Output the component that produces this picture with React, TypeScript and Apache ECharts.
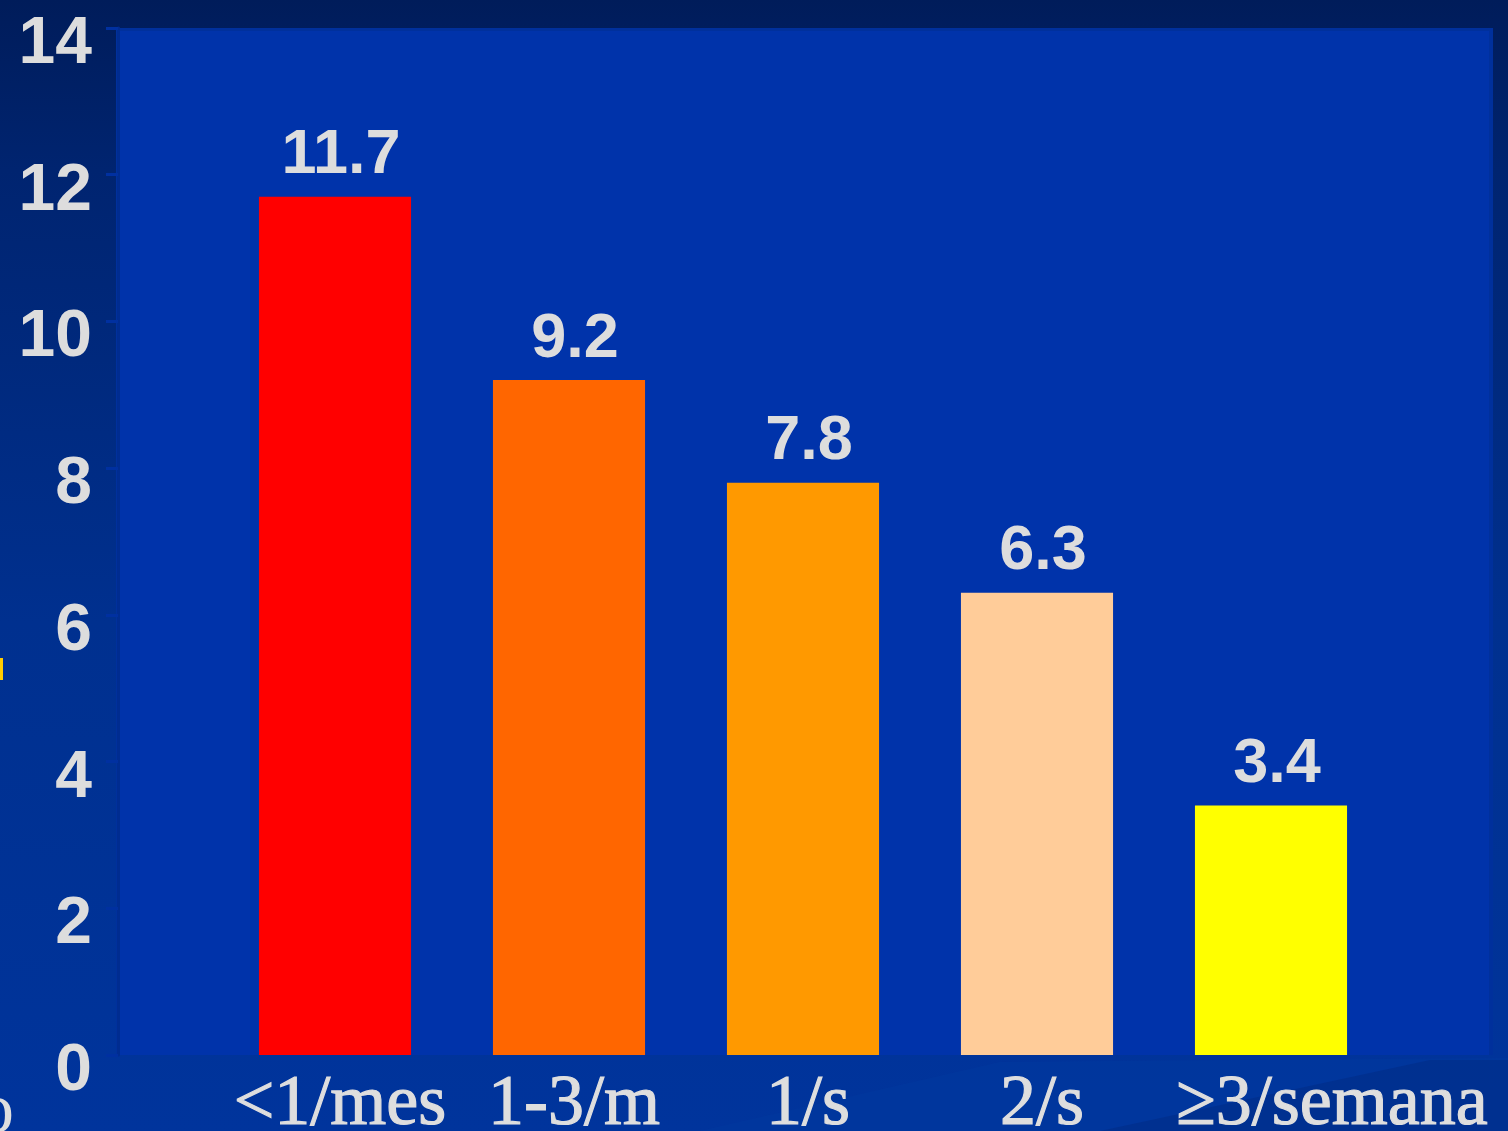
import React, { useEffect, useRef } from "react";
import * as echarts from "echarts";

const categories = ["<1/mes", "1-3/m", "1/s", "2/s", "≥3/semana"];
const values = [11.7, 9.2, 7.8, 6.3, 3.4];
const barColors = ["#FF0000", "#FF6600", "#FF9900", "#FFCC99", "#FFFF00"];
const yTicks = [0, 2, 4, 6, 8, 10, 12, 14];

export default function App() {
  const ref = useRef<HTMLDivElement>(null);
  useEffect(() => {
    if (!ref.current) return;
    const chart = echarts.init(ref.current, undefined, { renderer: "svg" });
    const serif = "'Liberation Serif', serif";
    const labelText = {
      color: "#DEDEDE",
      fontFamily: serif,
      fontSize: 72,
      textBorderColor: "#DEDEDE",
      textBorderWidth: 1.2,
    };
    const yText = {
      color: "#DDDDDD",
      fontFamily: "'Liberation Sans', Arial, sans-serif",
      fontWeight: "bold",
      fontSize: 66,
    };
    const option = {
      animation: false,
      backgroundColor: {
        type: "linear",
        x: 0,
        y: 0,
        x2: 0,
        y2: 1,
        colorStops: [
          { offset: 0, color: "#001C5A" },
          { offset: 0.15, color: "#002470" },
          { offset: 0.55, color: "#00308F" },
          { offset: 1, color: "#00349C" },
        ],
      },
      graphic: [
        {
          type: "polygon",
          z: -2,
          shape: { points: [[700, 1131], [1000, 1062], [1508, 1058], [1508, 1131]] },
          style: { fill: "#00399F", opacity: 0.6 },
        },
        {
          type: "polygon",
          z: -2,
          shape: { points: [[1100, 1131], [1430, 1060], [1508, 1060], [1508, 1131]] },
          style: { fill: "#002E8A", opacity: 0.7 },
        },
        {
          type: "rect",
          z: -1,
          shape: { x: 116, y: 28, width: 1377, height: 1027 },
          style: { fill: "#00309C" },
        },
        {
          type: "rect",
          z: -1,
          shape: { x: 119, y: 31, width: 1370, height: 1024 },
          style: { fill: "#0033AA" },
        },
        {
          type: "rect",
          z: -1,
          shape: { x: 0, y: 658, width: 3, height: 22 },
          style: { fill: "#FFCC00" },
        },
        {
          type: "text",
          z: 5,
          x: -22,
          y: 1072,
          style: {
            text: "o",
            fill: "#DEDEDE",
            font: "72px 'Liberation Serif', serif",
          },
        },
      ],
      grid: {
        left: 218,
        right: 120,
        top: 28,
        bottom: 76,
        containLabel: false,
        outerBoundsMode: "none",
      },
      xAxis: {
        type: "category",
        data: categories,
        axisLine: { show: false },
        axisTick: { show: false },
        axisLabel: {
          interval: 0,
          margin: 9,
          ...labelText,
          formatter: (v: string, i: number) =>
            i === categories.length - 1 ? `{last|${v}}` : `{n|${v}}`,
          rich: {
            n: { ...labelText, padding: [0, 0, 0, 10] },
            last: { ...labelText, padding: [0, 0, 0, 122] },
          },
        },
      },
      yAxis: {
        type: "value",
        min: yTicks[0],
        max: yTicks[yTicks.length - 1],
        interval: 2,
        offset: 100,
        z: 3,
        splitLine: { show: false },
        axisLine: { show: true, lineStyle: { color: "#002C90", width: 3 } },
        axisTick: { show: true, length: 12, lineStyle: { color: "#0030A0", width: 3 } },
        axisLabel: {
          margin: 26,
          ...yText,
          formatter: (v: number) => `{a|${v}}`,
          rich: { a: { ...yText, padding: [24, 0, 0, 0] } },
        },
      },
      series: [
        {
          type: "bar",
          z: 4,
          barWidth: "65%",
          data: values.map((v, i) => ({ value: v, itemStyle: { color: barColors[i] } })),
          label: {
            show: true,
            position: "top",
            distance: 14,
            color: "#DDDDDD",
            fontFamily: "'Liberation Sans', Arial, sans-serif",
            fontWeight: "bold",
            fontSize: 63,
            offset: [6, 0],
          },
        },
      ],
    };
    chart.setOption(option as any);
    return () => chart.dispose();
  }, []);
  return (
    <div
      ref={ref}
      style={{ position: "fixed", left: 0, top: 0, width: 1508, height: 1131 }}
    />
  );
}
